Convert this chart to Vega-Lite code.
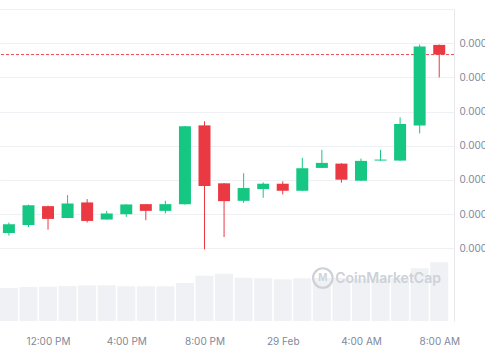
{
  "$schema": "https://vega.github.io/schema/vega-lite/v6.json",
  "width": 454,
  "height": 312,
  "autosize": {"type": "none"},
  "padding": {"left": 0, "right": 31, "top": 9, "bottom": 39},
  "background": "#ffffff",
  "view": {"stroke": null},
  "config": {"font": "Inter"},
  "datasets": {
    "candles": [
      {"t": "2024-02-28T10:00:00Z", "open": 0.00002045, "high": 0.000020756, "low": 0.000020374, "close": 0.000020706, "volume": 330},
      {"t": "2024-02-28T11:00:00Z", "open": 0.000020685, "high": 0.00002128, "low": 0.000020626, "close": 0.000021265, "volume": 340},
      {"t": "2024-02-28T12:00:00Z", "open": 0.000021235, "high": 0.00002125, "low": 0.00002055, "close": 0.000020862, "volume": 343},
      {"t": "2024-02-28T13:00:00Z", "open": 0.000020891, "high": 0.000021559, "low": 0.00002088, "close": 0.000021315, "volume": 350},
      {"t": "2024-02-28T14:00:00Z", "open": 0.000021344, "high": 0.000021441, "low": 0.000020756, "close": 0.000020803, "volume": 357},
      {"t": "2024-02-28T15:00:00Z", "open": 0.000020844, "high": 0.000021097, "low": 0.00002084, "close": 0.000021021, "volume": 357},
      {"t": "2024-02-28T16:00:00Z", "open": 0.000021, "high": 0.00002129, "low": 0.000020921, "close": 0.000021285, "volume": 347},
      {"t": "2024-02-28T17:00:00Z", "open": 0.000021294, "high": 0.0000213, "low": 0.000020824, "close": 0.000021097, "volume": 347},
      {"t": "2024-02-28T18:00:00Z", "open": 0.000021097, "high": 0.000021391, "low": 0.000021021, "close": 0.000021294, "volume": 347},
      {"t": "2024-02-28T19:00:00Z", "open": 0.000021294, "high": 0.00002358, "low": 0.00002128, "close": 0.000023568, "volume": 380},
      {"t": "2024-02-28T20:00:00Z", "open": 0.000023597, "high": 0.000023715, "low": 0.000019971, "close": 0.000021824, "volume": 453},
      {"t": "2024-02-28T21:00:00Z", "open": 0.000021903, "high": 0.00002191, "low": 0.000020332, "close": 0.000021382, "volume": 473},
      {"t": "2024-02-28T22:00:00Z", "open": 0.000021391, "high": 0.000022197, "low": 0.000021332, "close": 0.000021765, "volume": 433},
      {"t": "2024-02-28T23:00:00Z", "open": 0.000021735, "high": 0.000021932, "low": 0.000021479, "close": 0.000021891, "volume": 427},
      {"t": "2024-02-29T00:00:00Z", "open": 0.000021891, "high": 0.000021962, "low": 0.000021579, "close": 0.000021685, "volume": 417},
      {"t": "2024-02-29T01:00:00Z", "open": 0.000021685, "high": 0.000022647, "low": 0.00002168, "close": 0.000022344, "volume": 427},
      {"t": "2024-02-29T02:00:00Z", "open": 0.000022353, "high": 0.000022882, "low": 0.00002235, "close": 0.0000225, "volume": 430},
      {"t": "2024-02-29T03:00:00Z", "open": 0.000022479, "high": 0.00002249, "low": 0.000021921, "close": 0.000022009, "volume": 430},
      {"t": "2024-02-29T04:00:00Z", "open": 0.000021979, "high": 0.000022626, "low": 0.00002197, "close": 0.000022559, "volume": 420},
      {"t": "2024-02-29T05:00:00Z", "open": 0.000022568, "high": 0.000022882, "low": 0.00002256, "close": 0.000022597, "volume": 420},
      {"t": "2024-02-29T06:00:00Z", "open": 0.000022568, "high": 0.000023832, "low": 0.00002256, "close": 0.000023638, "volume": 430},
      {"t": "2024-02-29T07:00:00Z", "open": 0.000023597, "high": 0.000025962, "low": 0.000023362, "close": 0.000025903, "volume": 527},
      {"t": "2024-02-29T08:00:00Z", "open": 0.00002595, "high": 0.00002596, "low": 0.000025, "close": 0.000025668, "volume": 587}
    ],
    "lastPrice": [{"price": 0.000025668}],
    "mark": [
      {"t": "2024-02-29T02:03:00Z", "vol": 430, "label": "M", "kind": "logo"},
      {"t": "2024-02-29T05:23:00Z", "vol": 425, "label": "CoinMarketCap", "kind": "text"}
    ]
  },
  "layer": [
    {
      "layer": [
        {
          "data": {"name": "candles"},
          "mark": {"type": "bar", "size": 18, "color": "#eff1f4"},
          "encoding": {
            "x": {"field": "t", "type": "temporal",
              "scale": {"type": "utc", "domain": [{"year": 2024, "month": 2, "date": 28, "hours": 9, "minutes": 48, "utc": true}, {"year": 2024, "month": 2, "date": 29, "hours": 8, "minutes": 30, "utc": true}]},
              "axis": {"values": [{"year": 2024, "month": 2, "date": 28, "hours": 12, "utc": true}, {"year": 2024, "month": 2, "date": 28, "hours": 16, "utc": true}, {"year": 2024, "month": 2, "date": 28, "hours": 20, "utc": true}, {"year": 2024, "month": 2, "date": 29, "hours": 0, "utc": true}, {"year": 2024, "month": 2, "date": 29, "hours": 4, "utc": true}, {"year": 2024, "month": 2, "date": 29, "hours": 8, "utc": true}],
                "labelExpr": "utcFormat(datum.value, '%H') == '00' ? utcFormat(datum.value, '%-d %b') : utcFormat(datum.value, '%-I:%M %p')",
                "title": null, "domain": false, "ticks": false, "grid": false, "labelFont": "Inter", "labelFontSize": 10, "labelColor": "#7f8899", "labelBaseline": "middle", "labelPadding": 20, "labelFlush": false, "labelOverlap": false}},
            "y": {"field": "volume", "type": "quantitative", "scale": {"domain": [0, 3120], "nice": false}, "axis": null}
          }
        },
        {
          "data": {"name": "mark"},
          "transform": [{"filter": "datum.kind == 'logo'"}],
          "mark": {"type": "point", "shape": "circle", "filled": false, "size": 380, "strokeWidth": 2.2, "color": "#cdd1d8", "opacity": 1},
          "encoding": {
            "x": {"field": "t", "type": "temporal"},
            "y": {"field": "vol", "type": "quantitative"}
          }
        },
        {
          "data": {"name": "mark"},
          "transform": [{"filter": "datum.kind == 'logo'"}],
          "mark": {"type": "text", "font": "Inter", "fontSize": 10, "fontWeight": 600, "color": "#cdd1d8", "align": "center", "baseline": "middle"},
          "encoding": {
            "x": {"field": "t", "type": "temporal"},
            "y": {"field": "vol", "type": "quantitative"},
            "text": {"field": "label"}
          }
        },
        {
          "data": {"name": "mark"},
          "transform": [{"filter": "datum.kind == 'text'"}],
          "mark": {"type": "text", "font": "Inter", "fontSize": 14, "fontWeight": 600, "color": "#cdd1d8", "align": "center", "baseline": "middle"},
          "encoding": {
            "x": {"field": "t", "type": "temporal"},
            "y": {"field": "vol", "type": "quantitative"},
            "text": {"field": "label"}
          }
        }
      ]
    },
    {
      "layer": [
        {
          "data": {"name": "lastPrice"},
          "mark": {"type": "rule", "color": "#ea3943", "strokeWidth": 1, "strokeDash": [3, 2], "opacity": 0.9},
          "encoding": {
            "y": {"field": "price", "type": "quantitative"}
          }
        },
        {
          "data": {"name": "candles"},
          "mark": {"type": "rule", "strokeWidth": 1},
          "encoding": {
            "x": {"field": "t", "type": "temporal"},
            "y": {"field": "low", "type": "quantitative",
              "scale": {"domain": [0.000017877, 0.000027], "nice": false, "zero": false},
              "axis": {"orient": "right", "title": null, "values": [0.00002, 0.000021, 0.000022, 0.000023, 0.000024, 0.000025, 0.000026, 0.000027],
                "labelExpr": "datum.value > 0.0000265 ? '' : format(datum.value, '.8f')",
                "grid": true, "gridColor": "#eef0f3", "gridWidth": 1, "domain": true, "domainColor": "#e6e8ec", "ticks": false,
                "labelFont": "Inter", "labelFontSize": 10, "labelColor": "#7f8899", "labelPadding": 5, "labelAlign": "left", "labelBaseline": "middle", "labelFlush": false, "labelOverlap": false}},
            "y2": {"field": "high"},
            "color": {"condition": {"test": "datum.open <= datum.close", "value": "#16c784"}, "value": "#ea3943"}
          }
        },
        {
          "data": {"name": "candles"},
          "mark": {"type": "bar", "size": 12},
          "encoding": {
            "x": {"field": "t", "type": "temporal"},
            "y": {"field": "open", "type": "quantitative"},
            "y2": {"field": "close"},
            "color": {"condition": {"test": "datum.open <= datum.close", "value": "#16c784"}, "value": "#ea3943"}
          }
        }
      ]
    }
  ],
  "resolve": {"scale": {"y": "independent"}, "axis": {"y": "independent"}}
}
